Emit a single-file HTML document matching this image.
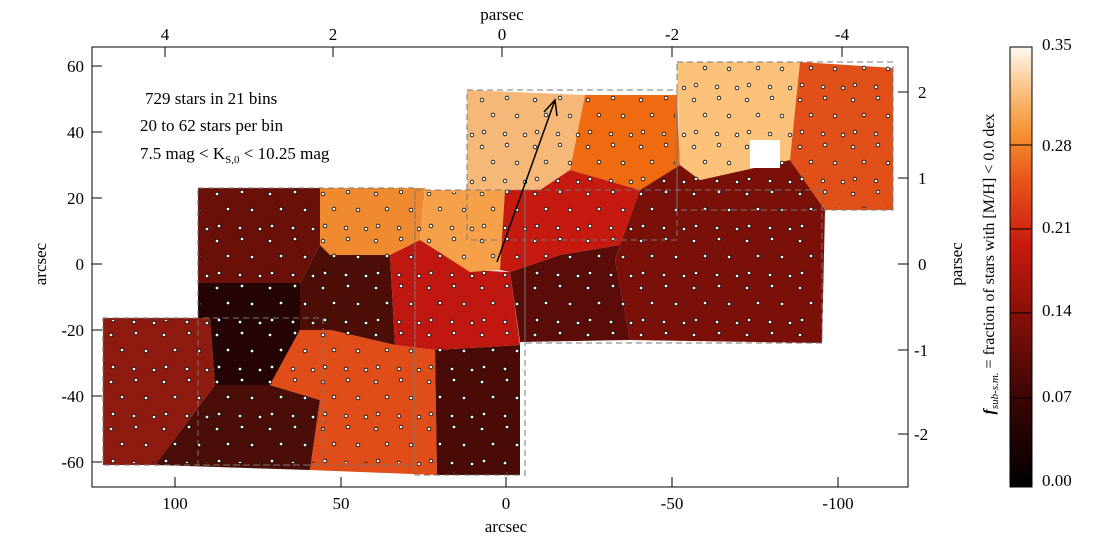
<!DOCTYPE html>
<html><head><meta charset="utf-8"><style>
body{margin:0;background:#fff;}
svg{display:block;font-family:"Liberation Serif",serif;}
</style></head><body>
<svg width="1108" height="552" viewBox="0 0 1108 552" xmlns="http://www.w3.org/2000/svg">
<defs>
<linearGradient id="cb" x1="0" y1="1" x2="0" y2="0">
<stop offset="0" stop-color="#000"/>
<stop offset="0.2" stop-color="#3a0605"/>
<stop offset="0.4" stop-color="#8a1008"/>
<stop offset="0.55" stop-color="#c81a0e"/>
<stop offset="0.7" stop-color="#e8561a"/>
<stop offset="0.8" stop-color="#f59030"/>
<stop offset="0.9" stop-color="#f9c080"/>
<stop offset="1" stop-color="#fff8f0"/>
</linearGradient>
<pattern id="dp" x="0" y="0" width="53" height="47" patternUnits="userSpaceOnUse">
<g fill="#fff" stroke="#000" stroke-width="0.8">
<circle cx="5" cy="6" r="1.8"/><circle cx="30" cy="4" r="1.8"/>
<circle cx="16" cy="21" r="1.8"/><circle cx="40" cy="22" r="1.8"/>
<circle cx="7" cy="38" r="1.8"/><circle cx="28" cy="40" r="1.8"/><circle cx="48" cy="41" r="1.8"/>
</g>
</pattern>
<clipPath id="fc">
<rect x="105" y="320" width="216" height="143"/>
<rect x="200" y="190" width="213" height="273"/>
<rect x="417" y="192" width="106" height="281"/>
<rect x="469" y="92" width="206" height="146"/>
<rect x="679" y="64" width="212" height="144"/>
<rect x="527" y="192" width="293" height="149"/>
</clipPath>
</defs>
<g id="cells">
<polygon fill="#8e1a10" points="103,318 210,318 215,385 155,465 103,465"/>
<polygon fill="#240404" points="198,283 300,283 300,330 270,385 215,385 210,318 198,318"/>
<polygon fill="#4a0d08" points="155,465 215,385 270,385 320,400 310,470"/>
<polygon fill="#6b1008" points="198,188 320,188 320,245 300,283 198,283"/>
<polygon fill="#f08a30" points="320,188 425,188 420,240 390,255 330,255 320,245"/>
<polygon fill="#4d0e08" points="320,245 330,255 390,255 395,345 330,330 300,330 300,283"/>
<polygon fill="#e04d18" points="320,400 270,385 300,330 330,330 395,345 435,350 437,475 310,470"/>
<polygon fill="#4a0a05" points="435,350 520,345 520,475 437,475"/>
<polygon fill="#c01810" points="390,255 420,240 470,270 510,272 520,345 435,350 395,345"/>
<polygon fill="#f7a04a" points="425,190 505,190 500,270 470,272 420,240"/>
<polygon fill="#f6b878" points="467,90 585,95 570,170 540,190 467,190"/>
<polygon fill="#f06a10" points="585,95 677,95 680,165 640,190 570,170"/>
<polygon fill="#c61a10" points="505,190 540,190 570,170 640,190 620,245 560,255 510,272 500,270"/>
<polygon fill="#5c0c08" points="510,272 560,255 620,245 615,260 630,340 520,342"/>
<polygon fill="#7a1008" points="620,245 640,190 680,165 700,180 790,160 825,210 822,343 630,340 615,260"/>
<polygon fill="#fcc27a" points="677,62 800,62 790,160 700,180 680,165"/>
<polygon fill="#e05018" points="800,62 893,68 893,210 825,210 790,160"/>
</g>
<rect x="100" y="60" width="800" height="420" fill="url(#dp)" clip-path="url(#fc)"/>
<rect x="750" y="140" width="30" height="28" fill="#fff"/>
<g fill="none" stroke="#777" stroke-dasharray="6,4" stroke-width="1">
<rect x="103" y="318" width="220" height="147"/>
<rect x="198" y="188" width="217" height="277"/>
<rect x="415" y="190" width="110" height="285"/>
<rect x="467" y="90" width="210" height="150"/>
<rect x="677" y="62" width="216" height="148"/>
<rect x="525" y="190" width="297" height="153"/>
</g>
<line x1="497" y1="262" x2="555" y2="100" stroke="#000" stroke-width="1.5"/>
<path d="M544,112 L555,100 L557,116" fill="none" stroke="#000" stroke-width="1.5"/>
<rect x="92" y="47" width="816" height="440" fill="none" stroke="#000" stroke-width="1"/>
<g stroke="#000" stroke-width="1">
<path d="M175,487v-10M341,487v-10M506,487v-10M672,487v-10M838,487v-10"/>
<path d="M92,66h10M92,132h10M92,198h10M92,264h10M92,330h10M92,396h10M92,462h10"/>
<path d="M165,47v10M333,47v10M502,47v10M672,47v10M842,47v10"/>
<path d="M908,92h-10M908,178h-10M908,264h-10M908,350h-10M908,434h-10"/>
</g>
<g font-size="17" text-anchor="middle">
<text x="175" y="509">100</text><text x="341" y="509">50</text><text x="506" y="509">0</text><text x="672" y="509">-50</text><text x="838" y="509">-100</text>
<text x="506" y="532">arcsec</text>
<text x="165" y="40">4</text><text x="333" y="40">2</text><text x="502" y="40">0</text><text x="672" y="40">-2</text><text x="842" y="40">-4</text>
<text x="502" y="20">parsec</text>
</g>
<g font-size="17" text-anchor="end">
<text x="84" y="72">60</text><text x="84" y="138">40</text><text x="84" y="204">20</text><text x="84" y="270">0</text><text x="84" y="336">-20</text><text x="84" y="402">-40</text><text x="84" y="468">-60</text>
</g>
<g font-size="17" text-anchor="start">
<text x="918" y="98">2</text><text x="918" y="184">1</text><text x="918" y="270">0</text><text x="914" y="356">-1</text><text x="914" y="440">-2</text>
</g>
<text transform="translate(46,264) rotate(-90)" font-size="17" text-anchor="middle">arcsec</text>
<text transform="translate(962,264) rotate(-90)" font-size="17" text-anchor="middle">parsec</text>
<text transform="translate(994,264) rotate(-90)" font-size="16" text-anchor="middle"><tspan font-style="italic" font-weight="bold">f</tspan><tspan font-size="11" font-style="italic" dy="4">sub-s.m.</tspan><tspan dy="-4"> = fraction of stars with [M/H] &lt; 0.0 dex</tspan></text>
<g font-size="17">
<text x="145" y="104">729 stars in 21 bins</text>
<text x="140" y="131">20 to 62 stars per bin</text>
<text x="140" y="159">7.5 mag &lt; K<tspan font-size="11" dy="4">S,0</tspan><tspan dy="-4"> &lt; 10.25 mag</tspan></text>
</g>
<rect x="1010" y="47" width="22" height="440" fill="url(#cb)" stroke="#000"/>
<g stroke="#000"><path d="M1010,145h22M1010,229h22M1010,313h22M1010,398h22"/></g>
<g font-size="17">
<text x="1042" y="50">0.35</text><text x="1042" y="151">0.28</text><text x="1042" y="233">0.21</text><text x="1042" y="316">0.14</text><text x="1042" y="402">0.07</text><text x="1042" y="486">0.00</text>
</g>
</svg>
</body></html>
